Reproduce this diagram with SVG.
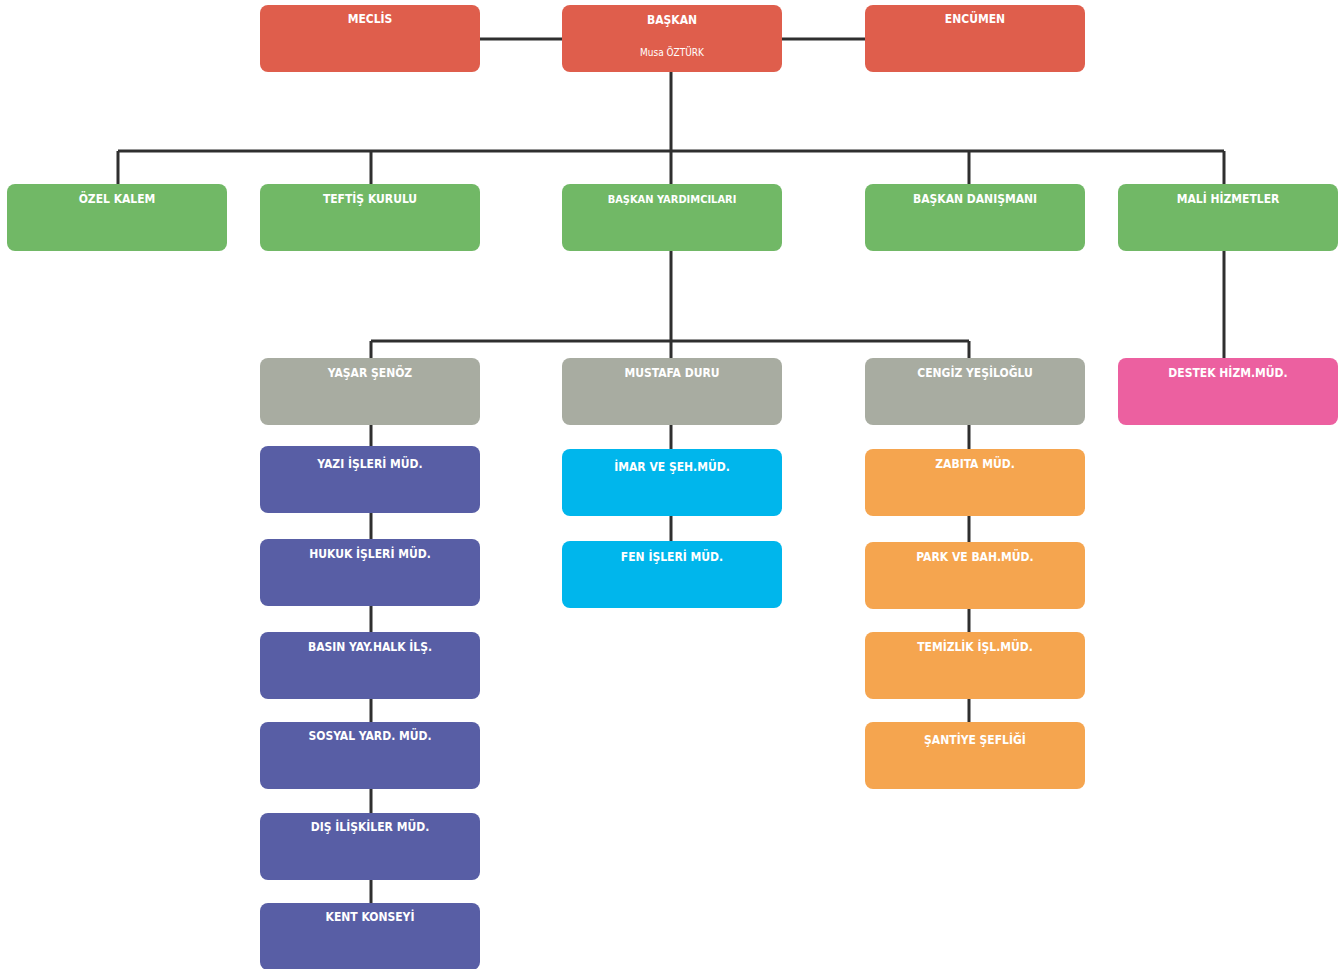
<svg xmlns="http://www.w3.org/2000/svg" width="1342" height="969" viewBox="0 0 1342 969">
<style>
.b{stroke:none}
.red{fill:#df5e4c}.grn{fill:#71b866}.gry{fill:#a8aca1}.blu{fill:#585ea5}.cyn{fill:#00b6ec}.org{fill:#f5a54f}.pnk{fill:#ec60a0}
text{font-family:"DejaVu Sans Condensed","DejaVu Sans",sans-serif;font-weight:bold;font-size:12px;fill:#ffffff;text-anchor:middle}
.sub{font-weight:normal;font-size:10px}
.c{stroke:#2f2f2f;stroke-width:3;fill:none}
</style>
<g id="connectors">
<path class="c" d="M480 39H562M782 39H865"/>
<path class="c" d="M671 72V151M118 151H1224M118 151V184M371 151V184M671 151V184M969 151V184M1224 151V184"/>
<path class="c" d="M671 251V341M371 341H969M371 341V358M671 341V358M969 341V358M1224 251V358"/>
<path class="c" d="M371 425V903"/>
<path class="c" d="M671 425V541"/>
<path class="c" d="M969 425V722"/>
</g>
<g id="meclis"><rect class="red" x="260" y="5" width="220" height="67" rx="8"/><text x="370" y="23">MECLİS</text></g>
<g id="baskan"><rect class="red" x="562" y="5" width="220" height="67" rx="8"/><text x="672" y="24">BAŞKAN</text><text class="sub" x="672" y="56">Musa ÖZTÜRK</text></g>
<g id="encumen"><rect class="red" x="865" y="5" width="220" height="67" rx="8"/><text x="975" y="23">ENCÜMEN</text></g>
<g id="ozel-kalem"><rect class="grn" x="7" y="184" width="220" height="67" rx="8"/><text x="117" y="203">ÖZEL KALEM</text></g>
<g id="teftis"><rect class="grn" x="260" y="184" width="220" height="67" rx="8"/><text x="370" y="203">TEFTİŞ KURULU</text></g>
<g id="baskan-yard"><rect class="grn" x="562" y="184" width="220" height="67" rx="8"/><text x="672" y="203" style="font-size:11px">BAŞKAN YARDIMCILARI</text></g>
<g id="baskan-dan"><rect class="grn" x="865" y="184" width="220" height="67" rx="8"/><text x="975" y="203">BAŞKAN DANIŞMANI</text></g>
<g id="mali"><rect class="grn" x="1118" y="184" width="220" height="67" rx="8"/><text x="1228" y="203">MALİ HİZMETLER</text></g>
<g id="yasar"><rect class="gry" x="260" y="358" width="220" height="67" rx="8"/><text x="370" y="377">YAŞAR ŞENÖZ</text></g>
<g id="mustafa"><rect class="gry" x="562" y="358" width="220" height="67" rx="8"/><text x="672" y="377">MUSTAFA DURU</text></g>
<g id="cengiz"><rect class="gry" x="865" y="358" width="220" height="67" rx="8"/><text x="975" y="377">CENGİZ YEŞİLOĞLU</text></g>
<g id="destek"><rect class="pnk" x="1118" y="358" width="220" height="67" rx="8"/><text x="1228" y="377">DESTEK HİZM.MÜD.</text></g>
<g id="yazi"><rect class="blu" x="260" y="446" width="220" height="67" rx="8"/><text x="370" y="468">YAZI İŞLERİ MÜD.</text></g>
<g id="hukuk"><rect class="blu" x="260" y="539" width="220" height="67" rx="8"/><text x="370" y="558">HUKUK İŞLERİ MÜD.</text></g>
<g id="basin"><rect class="blu" x="260" y="632" width="220" height="67" rx="8"/><text x="370" y="651">BASIN YAY.HALK İLŞ.</text></g>
<g id="sosyal"><rect class="blu" x="260" y="722" width="220" height="67" rx="8"/><text x="370" y="740">SOSYAL YARD. MÜD.</text></g>
<g id="dis"><rect class="blu" x="260" y="813" width="220" height="67" rx="8"/><text x="370" y="831">DIŞ İLİŞKİLER MÜD.</text></g>
<g id="kent"><rect class="blu" x="260" y="903" width="220" height="67" rx="8"/><text x="370" y="921">KENT KONSEYİ</text></g>
<g id="imar"><rect class="cyn" x="562" y="449" width="220" height="67" rx="8"/><text x="672" y="471">İMAR VE ŞEH.MÜD.</text></g>
<g id="fen"><rect class="cyn" x="562" y="541" width="220" height="67" rx="8"/><text x="672" y="561">FEN İŞLERİ MÜD.</text></g>
<g id="zabita"><rect class="org" x="865" y="449" width="220" height="67" rx="8"/><text x="975" y="468">ZABITA MÜD.</text></g>
<g id="park"><rect class="org" x="865" y="542" width="220" height="67" rx="8"/><text x="975" y="561">PARK VE BAH.MÜD.</text></g>
<g id="temizlik"><rect class="org" x="865" y="632" width="220" height="67" rx="8"/><text x="975" y="651">TEMİZLİK İŞL.MÜD.</text></g>
<g id="santiye"><rect class="org" x="865" y="722" width="220" height="67" rx="8"/><text x="975" y="744">ŞANTİYE ŞEFLİĞİ</text></g>
</svg>
